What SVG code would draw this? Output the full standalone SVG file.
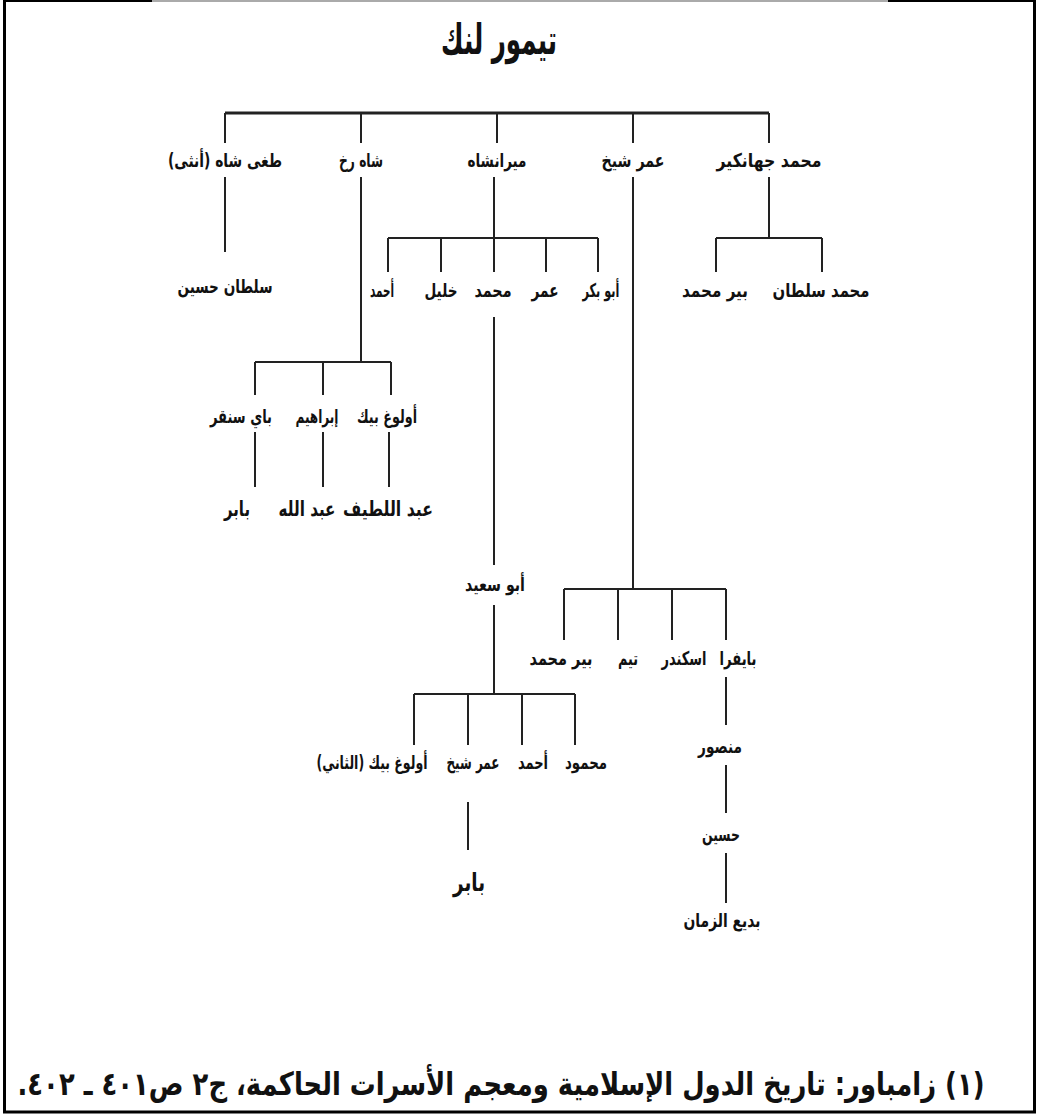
<svg xmlns="http://www.w3.org/2000/svg" width="1037" height="1116" viewBox="0 0 1037 1116">
<style>
  text { font-family: "DejaVu Sans", sans-serif; font-weight: bold; fill: #111; text-anchor: middle; direction: rtl; }
  .t1 { font-size: 19px; }
  .t1s { font-size: 15px; }
  .t1m { font-size: 16px; }
  .t2 { font-size: 21px; }
  .t2s { font-size: 16px; }
  .t3 { font-size: 25px; }
  .title { font-size: 42px; }
  .foot { font-size: 25px; }
  .ln { stroke: #222; stroke-width: 2; fill: none; }
  .bar { stroke: #222; stroke-width: 3; fill: none; }
</style>
<rect x="0" y="0" width="1037" height="1116" fill="#fff"/>
<g id="frame">
  <line x1="4.5" y1="0" x2="4.5" y2="1113" stroke="#000" stroke-width="3"/>
  <line x1="1034.5" y1="0" x2="1034.5" y2="1113" stroke="#000" stroke-width="3"/>
  <line x1="3" y1="1112" x2="1036" y2="1112" stroke="#000" stroke-width="3"/>
  <line x1="3" y1="1" x2="152" y2="1" stroke="#000" stroke-width="2"/>
  <line x1="152" y1="1" x2="888" y2="1" stroke="#aaa" stroke-width="2"/>
  <line x1="888" y1="1" x2="1036" y2="1" stroke="#000" stroke-width="2"/>
</g>
<g id="connectors">
  <line class="bar" x1="225" y1="113" x2="769" y2="113"/>
  <path class="ln" d="M225 113V143M361 113V143M497 113V143M633 113V143M769 113V143"/>
  <path class="ln" d="M225 177V252"/>
  <path class="ln" d="M361 177V362M255 362H391M255 362V395M323 362V395M391 362V395"/>
  <path class="ln" d="M494 177V238M388 238H598M388 238V272M441 238V272M494 238V272M546 238V272M598 238V272"/>
  <path class="ln" d="M769 177V238M716 238H822M716 238V272M822 238V272"/>
  <path class="ln" d="M633 177V589M564 589H726M564 589V640M618 589V640M672 589V640M726 589V640"/>
  <path class="ln" d="M255 432V487M323 432V487M389 432V487"/>
  <path class="ln" d="M494 317V565"/>
  <path class="ln" d="M494 605V694M414 694H575M414 694V745M468 694V745M522 694V745M575 694V745"/>
  <path class="ln" d="M468 802V850"/>
  <path class="ln" d="M726 677V725M726 765V813M726 853V903"/>
</g>
<g id="n-timur"><text class="title" x="499" y="54" textLength="116" lengthAdjust="spacingAndGlyphs">تيمور لنك</text></g>
<g id="n-tughay"><text class="t1" x="225" y="167" textLength="114" lengthAdjust="spacingAndGlyphs">طغى شاه (أنثى)</text></g>
<g id="n-shahrukh"><text class="t1" x="361" y="167" textLength="44" lengthAdjust="spacingAndGlyphs">شاه رخ</text></g>
<g id="n-miranshah"><text class="t1" x="497" y="167" textLength="59" lengthAdjust="spacingAndGlyphs">ميرانشاه</text></g>
<g id="n-umarshaykh"><text class="t1" x="633" y="167" textLength="63" lengthAdjust="spacingAndGlyphs">عمر شيخ</text></g>
<g id="n-jahangir"><text class="t1" x="769" y="167" textLength="105" lengthAdjust="spacingAndGlyphs">محمد جهانكير</text></g>
<g id="n-sultanhusayn"><text class="t1" x="225" y="293" textLength="95" lengthAdjust="spacingAndGlyphs">سلطان حسين</text></g>
<g id="n-ahmad1"><text class="t1" x="382" y="297" textLength="24" lengthAdjust="spacingAndGlyphs">أحمد</text></g>
<g id="n-khalil"><text class="t1" x="441" y="297" textLength="33" lengthAdjust="spacingAndGlyphs">خليل</text></g>
<g id="n-muhammad1"><text class="t1" x="493" y="297" textLength="37" lengthAdjust="spacingAndGlyphs">محمد</text></g>
<g id="n-umar"><text class="t1" x="545" y="297" textLength="27" lengthAdjust="spacingAndGlyphs">عمر</text></g>
<g id="n-abubakr"><text class="t1" x="601" y="297" textLength="37" lengthAdjust="spacingAndGlyphs">أبو بكر</text></g>
<g id="n-pirmuhammad1"><text class="t1" x="715" y="297" textLength="66" lengthAdjust="spacingAndGlyphs">بير محمد</text></g>
<g id="n-muhammadsultan"><text class="t1" x="821" y="297" textLength="97" lengthAdjust="spacingAndGlyphs">محمد سلطان</text></g>
<g id="n-baysunghur"><text class="t1" x="241" y="423" textLength="62" lengthAdjust="spacingAndGlyphs">باي سنقر</text></g>
<g id="n-ibrahim"><text class="t1" x="317" y="423" textLength="43" lengthAdjust="spacingAndGlyphs">إبراهيم</text></g>
<g id="n-ulughbeg"><text class="t1" x="387" y="423" textLength="60" lengthAdjust="spacingAndGlyphs">أولوغ بيك</text></g>
<g id="n-babur1"><text class="t2" x="237" y="516" textLength="26" lengthAdjust="spacingAndGlyphs">بابر</text></g>
<g id="n-abdallah" transform="translate(307,516) scale(1,1.3)"><text class="t2s" x="0" y="0" textLength="57" lengthAdjust="spacingAndGlyphs">عبد الله</text></g>
<g id="n-abdallatif" transform="translate(388,516) scale(1,1.3)"><text class="t2s" x="0" y="0" textLength="90" lengthAdjust="spacingAndGlyphs">عبد اللطيف</text></g>
<g id="n-abusaid"><text class="t1" x="495" y="591" textLength="60" lengthAdjust="spacingAndGlyphs">أبو سعيد</text></g>
<g id="n-pirmuhammad2" transform="translate(561,665) scale(1,1.19)"><text class="t1m" x="0" y="0" textLength="63" lengthAdjust="spacingAndGlyphs">بير محمد</text></g>
<g id="n-taym" transform="translate(628,665) scale(1,1.19)"><text class="t1m" x="0" y="0" textLength="20" lengthAdjust="spacingAndGlyphs">تيم</text></g>
<g id="n-iskandar" transform="translate(684,665) scale(1,1.19)"><text class="t1m" x="0" y="0" textLength="45" lengthAdjust="spacingAndGlyphs">اسكندر</text></g>
<g id="n-bayqara" transform="translate(738,665) scale(1,1.19)"><text class="t1m" x="0" y="0" textLength="37" lengthAdjust="spacingAndGlyphs">بايفرا</text></g>
<g id="n-ulughbeg2" transform="translate(372,769) scale(1,1.26)"><text class="t1s" x="0" y="0" textLength="111" lengthAdjust="spacingAndGlyphs">أولوغ بيك (الثاني)</text></g>
<g id="n-umarshaykh2" transform="translate(473,769) scale(1,1.26)"><text class="t1s" x="0" y="0" textLength="53" lengthAdjust="spacingAndGlyphs">عمر شيخ</text></g>
<g id="n-ahmad2" transform="translate(533,769) scale(1,1.26)"><text class="t1s" x="0" y="0" textLength="30" lengthAdjust="spacingAndGlyphs">أحمد</text></g>
<g id="n-mahmud" transform="translate(586,769) scale(1,1.26)"><text class="t1s" x="0" y="0" textLength="42" lengthAdjust="spacingAndGlyphs">محمود</text></g>
<g id="n-babur2"><text class="t3" x="469" y="891" textLength="32" lengthAdjust="spacingAndGlyphs">بابر</text></g>
<g id="n-mansur"><text class="t1" x="720" y="753" textLength="44" lengthAdjust="spacingAndGlyphs">منصور</text></g>
<g id="n-husayn"><text class="t1" x="721" y="841" textLength="38" lengthAdjust="spacingAndGlyphs">حسين</text></g>
<g id="n-badi"><text class="t1" x="722" y="927" textLength="77" lengthAdjust="spacingAndGlyphs">بديع الزمان</text></g>
<g id="footer" transform="translate(501,1095) scale(1,1.28)"><text class="foot" x="0" y="0" textLength="967" lengthAdjust="spacingAndGlyphs">(١) زامباور: تاريخ الدول الإسلامية ومعجم الأسرات الحاكمة، ج٢ ص٤٠١ ـ ٤٠٢.</text></g>
</svg>
